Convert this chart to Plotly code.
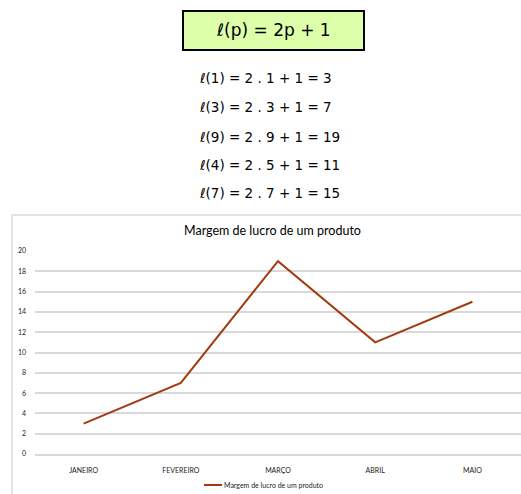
import plotly.graph_objects as go

meses = ["JANEIRO", "FEVEREIRO", "MARÇO", "ABRIL", "MAIO"]
lucro = [3, 7, 19, 11, 15]
serie_nome = "Margem de lucro de um produto"
titulo = "Margem de lucro de um produto"
formula = "ℓ(p) = 2p + 1"
equacoes = [
    "ℓ(1) = 2 . 1 + 1 = 3",
    "ℓ(3) = 2 . 3 + 1 = 7",
    "ℓ(9) = 2 . 9 + 1 = 19",
    "ℓ(4) = 2 . 5 + 1 = 11",
    "ℓ(7) = 2 . 7 + 1 = 15",
]
y_ticks = [0, 2, 4, 6, 8, 10, 12, 14, 16, 18, 20]

W, H = 521, 494
L, R = 35, 521
TOP, BOT = 251, 454


def px(x):
    return (x - L) / (R - L)


def py(y):
    return (BOT - y) / (BOT - TOP)


LINE_COLOR = "#A23A12"

fig = go.Figure()
fig.add_trace(go.Scatter(
    x=meses, y=lucro, mode="lines", name=serie_nome,
    line=dict(color=LINE_COLOR, width=2), showlegend=False,
))

shapes = []
annotations = []

# chart frame
shapes.append(dict(type="rect", xref="paper", yref="paper",
                   x0=px(12), x1=px(530), y0=py(505), y1=py(215),
                   line=dict(color="#D9D9D9", width=1.5), layer="below"))

# formula box
shapes.append(dict(type="rect", xref="paper", yref="paper",
                   x0=px(183), x1=px(364), y0=py(50), y1=py(11),
                   line=dict(color="#000000", width=2), fillcolor="#DDFFAA", layer="below"))
annotations.append(dict(text=formula, xref="paper", yref="paper",
                        x=px(273), y=py(30), showarrow=False,
                        font=dict(family="DejaVu Sans", size=17, color="#000"),
                        xanchor="center", yanchor="middle"))

# equations
eq_y = [78, 107, 137, 165, 193]
for t, yy in zip(equacoes, eq_y):
    annotations.append(dict(text=t, xref="paper", yref="paper",
                            x=px(197), y=py(yy), showarrow=False,
                            font=dict(family="DejaVu Sans", size=13.5, color="#000"),
                            xanchor="left", yanchor="middle"))

# chart title
annotations.append(dict(text=titulo, xref="paper", yref="paper",
                        x=px(272), y=py(231), showarrow=False,
                        font=dict(family="Lato", size=12.5, color="#000"),
                        xanchor="center", yanchor="middle"))

# legend
shapes.append(dict(type="line", xref="paper", yref="paper",
                   x0=px(204), x1=px(222), y0=py(485), y1=py(485),
                   line=dict(color=LINE_COLOR, width=2)))
annotations.append(dict(text=serie_nome, xref="paper", yref="paper",
                        x=px(222), y=py(485), showarrow=False,
                        font=dict(family="Lato", size=7, color="#222"),
                        xanchor="left", yanchor="middle"))

fig.update_layout(
    width=W, height=H,
    margin=dict(l=L, r=W - R, t=TOP, b=H - BOT),
    paper_bgcolor="white", plot_bgcolor="white",
    shapes=shapes, annotations=annotations,
    xaxis=dict(type="category", range=[-0.5, 4.5], showgrid=False,
               showline=True, linecolor="#D9D9D9", linewidth=1.5,
               ticks="", ticklabelstandoff=9,
               tickfont=dict(family="Lato", size=7, color="#222"),
               fixedrange=True),
    yaxis=dict(range=[0, 20], tickvals=y_ticks, showgrid=True,
               gridcolor="#D9D9D9", gridwidth=1.5, zeroline=False,
               showline=False, ticks="", ticklabelstandoff=8,
               tickfont=dict(family="Lato", size=7, color="#222"),
               fixedrange=True),
)

fig.write_html("out.html", config={"displayModeBar": False},
               post_script="document.body.style.margin='0px';")
